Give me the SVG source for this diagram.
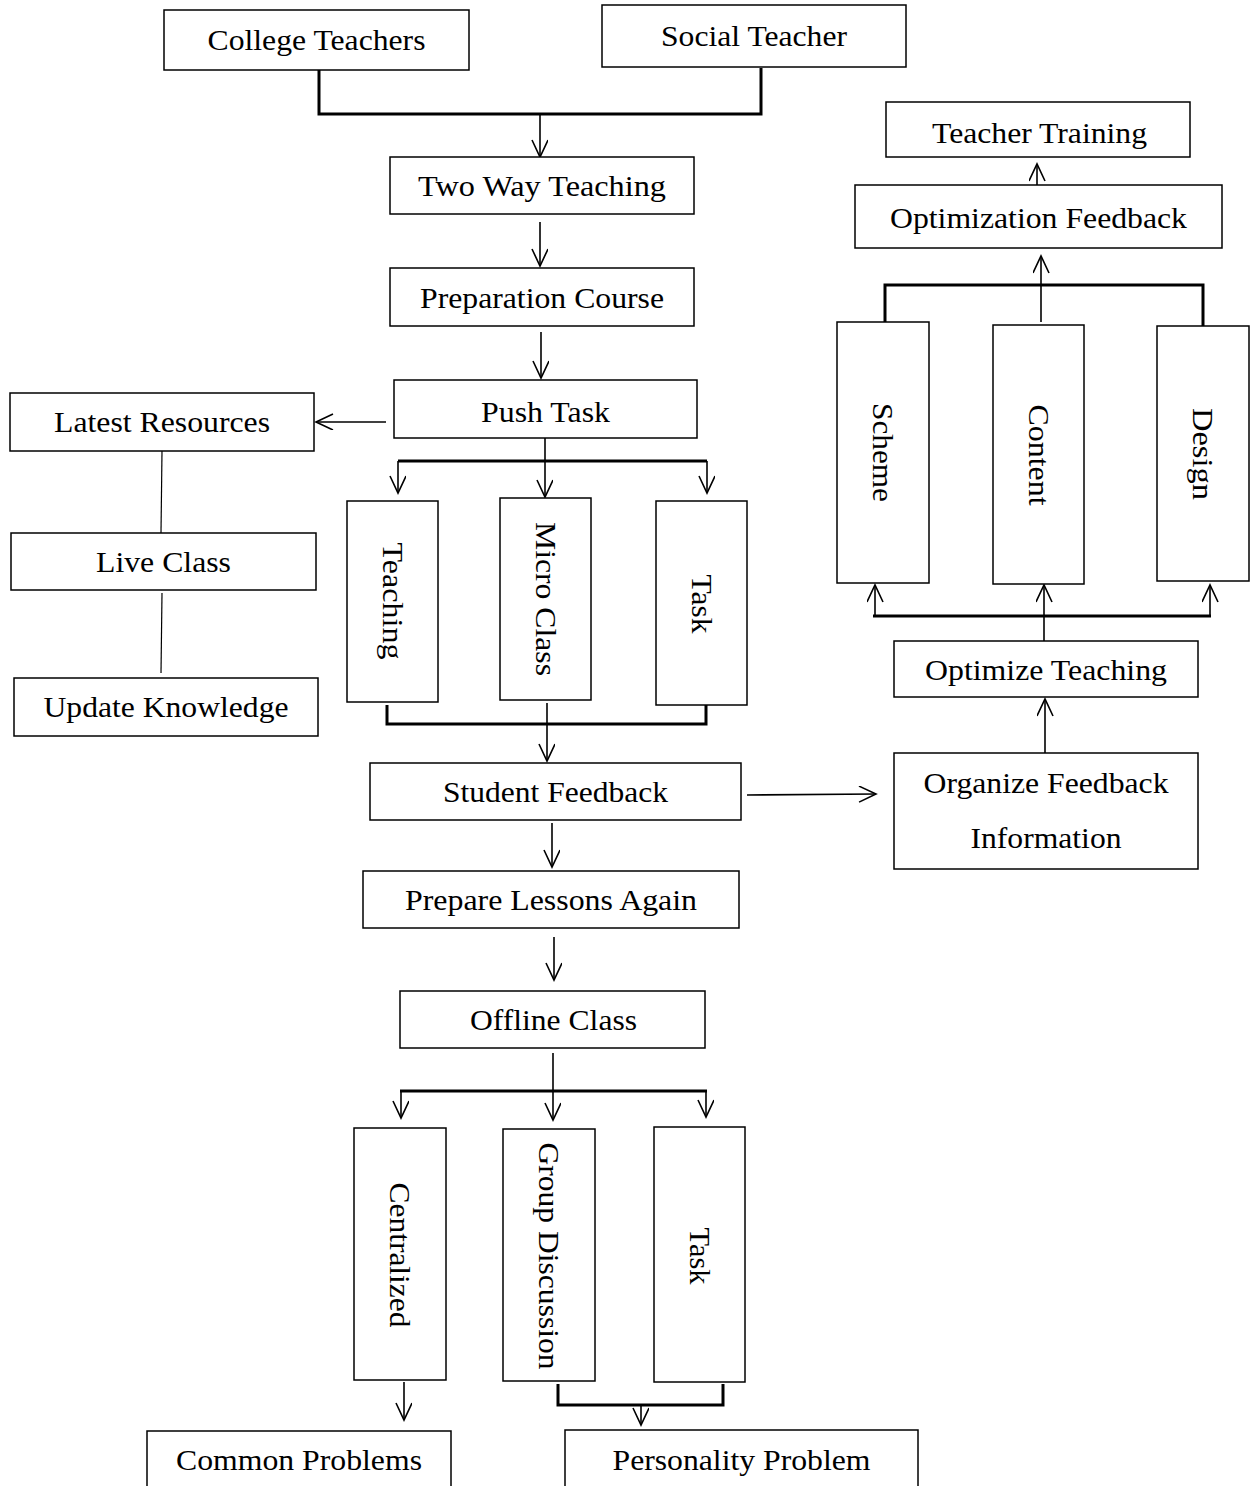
<svg xmlns="http://www.w3.org/2000/svg" width="1258" height="1486" viewBox="0 0 1258 1486">
  <style>
    .box { fill: #fff; stroke: #000; stroke-width: 1.5; }
    .lbl { font-family: "Liberation Serif", "Times New Roman", serif; font-size: 30px; fill: #000; text-anchor: middle; }
    .arrow { fill: none; stroke: #000; stroke-width: 1.6; marker-end: url(#head); }
    .bar { fill: none; stroke: #000; stroke-width: 3; }
    .thin { fill: none; stroke: #000; stroke-width: 1.2; }
  </style>
  <defs>
    <marker id="head" markerUnits="userSpaceOnUse" markerWidth="20" markerHeight="18" viewBox="0 0 20 18" refX="18" refY="8" orient="auto">
      <path d="M1,0 L18,8 L1,16" fill="none" stroke="#000" stroke-width="1.6"/>
    </marker>
  </defs>
  <rect width="1258" height="1486" fill="#fff"/>

  <!-- connectors -->
  <g id="connectors">
    <path class="bar" d="M319,70 V114 H761 V68"/>
    <path class="arrow" d="M540,114 V157"/>
    <path class="arrow" d="M540,222 V266"/>
    <path class="arrow" d="M541,332 V378"/>
    <path class="arrow" d="M386,422 H316"/>
    <path class="thin" d="M162,451 L161,533"/>
    <path class="thin" d="M162,593 L161,673"/>
    <path class="bar" d="M398,461 H707"/>
    <path class="arrow" d="M545,430 V497"/>
    <path class="arrow" d="M398,461 V493"/>
    <path class="arrow" d="M707,461 V493"/>
    <path class="bar" d="M387,705 V724 H706 V704"/>
    <path class="arrow" d="M547,703 V761"/>
    <path class="arrow" d="M747,795 L876,794"/>
    <path class="arrow" d="M552,823 V867"/>
    <path class="arrow" d="M554,937 V980"/>
    <path class="bar" d="M400,1091 H707"/>
    <path class="arrow" d="M553,1053 V1120"/>
    <path class="arrow" d="M401,1091 V1118"/>
    <path class="arrow" d="M706,1091 V1117"/>
    <path class="arrow" d="M404,1382 V1420"/>
    <path class="bar" d="M558,1384 V1405 H723 V1384"/>
    <path class="arrow" d="M641,1405 V1425"/>
    <path class="arrow" d="M1045,753 V699"/>
    <path class="arrow" d="M1044,641 V585"/>
    <path class="bar" d="M873,616 H1211"/>
    <path class="arrow" d="M875,616 V585"/>
    <path class="arrow" d="M1210,616 V585"/>
    <path class="bar" d="M885,330 V285 H1203 V328"/>
    <path class="arrow" d="M1041,322 V256"/>
    <path class="arrow" d="M1037,186 V164"/>
  </g>

  <!-- nodes -->
  <g id="college-teachers">
    <rect class="box" x="164" y="10" width="305" height="60"/>
    <text class="lbl" x="316.5" y="50" textLength="218" lengthAdjust="spacingAndGlyphs">College Teachers</text>
  </g>
  <g id="social-teacher">
    <rect class="box" x="602" y="5" width="304" height="62"/>
    <text class="lbl" x="754" y="46" textLength="186" lengthAdjust="spacingAndGlyphs">Social Teacher</text>
  </g>
  <g id="two-way-teaching">
    <rect class="box" x="390" y="157" width="304" height="57"/>
    <text class="lbl" x="542" y="196" textLength="248" lengthAdjust="spacingAndGlyphs">Two Way Teaching</text>
  </g>
  <g id="preparation-course">
    <rect class="box" x="390" y="268" width="304" height="58"/>
    <text class="lbl" x="542" y="308" textLength="244" lengthAdjust="spacingAndGlyphs">Preparation Course</text>
  </g>
  <g id="push-task">
    <rect class="box" x="394" y="380" width="303" height="58"/>
    <text class="lbl" x="545.5" y="422" textLength="129" lengthAdjust="spacingAndGlyphs">Push Task</text>
  </g>
  <g id="latest-resources">
    <rect class="box" x="10" y="393" width="304" height="58"/>
    <text class="lbl" x="162" y="432" textLength="216" lengthAdjust="spacingAndGlyphs">Latest Resources</text>
  </g>
  <g id="live-class">
    <rect class="box" x="11" y="533" width="305" height="57"/>
    <text class="lbl" x="163.5" y="572" textLength="135" lengthAdjust="spacingAndGlyphs">Live Class</text>
  </g>
  <g id="update-knowledge">
    <rect class="box" x="14" y="678" width="304" height="58"/>
    <text class="lbl" x="166" y="717" textLength="245" lengthAdjust="spacingAndGlyphs">Update Knowledge</text>
  </g>
  <g id="teaching">
    <rect class="box" x="347" y="501" width="91" height="201"/>
    <text class="lbl" transform="translate(392.5,601) rotate(90)" x="0" y="10" textLength="117" lengthAdjust="spacingAndGlyphs">Teaching</text>
  </g>
  <g id="micro-class">
    <rect class="box" x="500" y="498" width="91" height="202"/>
    <text class="lbl" transform="translate(545.5,599) rotate(90)" x="0" y="10" textLength="154" lengthAdjust="spacingAndGlyphs">Micro Class</text>
  </g>
  <g id="task-online">
    <rect class="box" x="656" y="501" width="91" height="204"/>
    <text class="lbl" transform="translate(701.5,604) rotate(90)" x="0" y="10" textLength="59" lengthAdjust="spacingAndGlyphs">Task</text>
  </g>
  <g id="student-feedback">
    <rect class="box" x="370" y="763" width="371" height="57"/>
    <text class="lbl" x="555.5" y="802" textLength="225" lengthAdjust="spacingAndGlyphs">Student Feedback</text>
  </g>
  <g id="organize-feedback">
    <rect class="box" x="894" y="753" width="304" height="116"/>
    <text class="lbl" x="1046" y="793" textLength="245" lengthAdjust="spacingAndGlyphs">Organize Feedback</text>
    <text class="lbl" x="1046" y="848" textLength="151" lengthAdjust="spacingAndGlyphs">Information</text>
  </g>
  <g id="optimize-teaching">
    <rect class="box" x="894" y="641" width="304" height="56"/>
    <text class="lbl" x="1046" y="680" textLength="242" lengthAdjust="spacingAndGlyphs">Optimize Teaching</text>
  </g>
  <g id="scheme">
    <rect class="box" x="837" y="322" width="92" height="261"/>
    <text class="lbl" transform="translate(883,452.5) rotate(90)" x="0" y="10" textLength="99" lengthAdjust="spacingAndGlyphs">Scheme</text>
  </g>
  <g id="content">
    <rect class="box" x="993" y="325" width="91" height="259"/>
    <text class="lbl" transform="translate(1038.5,455) rotate(90)" x="0" y="10" textLength="101" lengthAdjust="spacingAndGlyphs">Content</text>
  </g>
  <g id="design">
    <rect class="box" x="1157" y="326" width="92" height="255"/>
    <text class="lbl" transform="translate(1203,454) rotate(90)" x="0" y="10" textLength="92" lengthAdjust="spacingAndGlyphs">Design</text>
  </g>
  <g id="optimization-feedback">
    <rect class="box" x="855" y="185" width="367" height="63"/>
    <text class="lbl" x="1038.5" y="228" textLength="297" lengthAdjust="spacingAndGlyphs">Optimization Feedback</text>
  </g>
  <g id="teacher-training">
    <rect class="box" x="886" y="102" width="304" height="55"/>
    <text class="lbl" x="1039.5" y="143" textLength="215" lengthAdjust="spacingAndGlyphs">Teacher Training</text>
  </g>
  <g id="prepare-lessons-again">
    <rect class="box" x="363" y="871" width="376" height="57"/>
    <text class="lbl" x="551" y="910" textLength="292" lengthAdjust="spacingAndGlyphs">Prepare Lessons Again</text>
  </g>
  <g id="offline-class">
    <rect class="box" x="400" y="991" width="305" height="57"/>
    <text class="lbl" x="553.5" y="1030" textLength="167" lengthAdjust="spacingAndGlyphs">Offline Class</text>
  </g>
  <g id="centralized">
    <rect class="box" x="354" y="1128" width="92" height="252"/>
    <text class="lbl" transform="translate(400,1255) rotate(90)" x="0" y="10" textLength="145" lengthAdjust="spacingAndGlyphs">Centralized</text>
  </g>
  <g id="group-discussion">
    <rect class="box" x="503" y="1129" width="92" height="252"/>
    <text class="lbl" transform="translate(549,1256) rotate(90)" x="0" y="10" textLength="227" lengthAdjust="spacingAndGlyphs">Group Discussion</text>
  </g>
  <g id="task-offline">
    <rect class="box" x="654" y="1127" width="91" height="255"/>
    <text class="lbl" transform="translate(699.5,1256) rotate(90)" x="0" y="10" textLength="57" lengthAdjust="spacingAndGlyphs">Task</text>
  </g>
  <g id="common-problems">
    <rect class="box" x="147" y="1431" width="304" height="60"/>
    <text class="lbl" x="299" y="1470" textLength="246" lengthAdjust="spacingAndGlyphs">Common Problems</text>
  </g>
  <g id="personality-problem">
    <rect class="box" x="565" y="1430" width="353" height="61"/>
    <text class="lbl" x="741.5" y="1470" textLength="258" lengthAdjust="spacingAndGlyphs">Personality Problem</text>
  </g>
</svg>
